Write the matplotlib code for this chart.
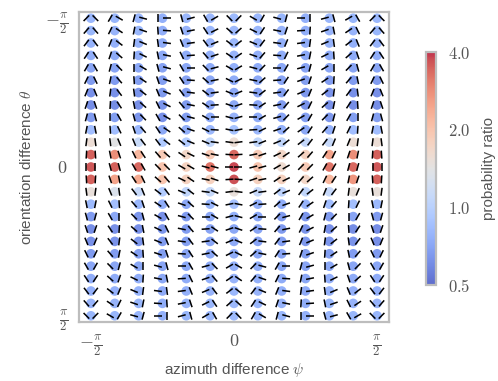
import numpy as np
import matplotlib
matplotlib.use("Agg")
from matplotlib import pyplot as plt
from matplotlib.colors import LogNorm
from matplotlib.collections import LineCollection

plt.rcParams['font.family'] = ['Liberation Sans', 'DejaVu Sans']
plt.rcParams['mathtext.fontset'] = 'cm'

# grid of azimuth differences (columns) and orientation differences (rows), degrees
psi_deg = [-90, -75, -60, -45, -30, -15, 0, 15, 30, 45, 60, 75, 90]
theta_deg = [-90, -82.5, -75, -67.5, -60, -52.5, -45, -37.5, -30, -22.5, -15, -7.5, 0,
             7.5, 15, 22.5, 30, 37.5, 45, 52.5, 60, 67.5, 75, 82.5, 90]

# probability ratio, one row per theta value (top to bottom), one entry per psi value
ratio = [
    [0.80, 0.79, 0.80, 0.76, 0.80, 0.80, 0.82, 0.80, 0.79, 0.76, 0.80, 0.79, 0.80],
    [0.79, 0.78, 0.79, 0.75, 0.78, 0.80, 0.81, 0.80, 0.78, 0.75, 0.78, 0.78, 0.79],
    [0.78, 0.76, 0.78, 0.74, 0.76, 0.78, 0.80, 0.78, 0.76, 0.74, 0.77, 0.76, 0.78],
    [0.75, 0.74, 0.75, 0.72, 0.74, 0.76, 0.78, 0.76, 0.74, 0.72, 0.74, 0.74, 0.75],
    [0.71, 0.70, 0.72, 0.70, 0.72, 0.74, 0.76, 0.74, 0.72, 0.70, 0.71, 0.70, 0.71],
    [0.66, 0.66, 0.68, 0.68, 0.70, 0.72, 0.74, 0.72, 0.70, 0.68, 0.67, 0.66, 0.66],
    [0.62, 0.62, 0.64, 0.66, 0.68, 0.70, 0.72, 0.70, 0.68, 0.65, 0.63, 0.62, 0.62],
    [0.61, 0.61, 0.62, 0.64, 0.66, 0.70, 0.72, 0.70, 0.66, 0.63, 0.62, 0.61, 0.61],
    [0.66, 0.68, 0.64, 0.62, 0.68, 0.74, 0.78, 0.74, 0.70, 0.68, 0.65, 0.68, 0.68],
    [0.84, 0.84, 0.80, 0.72, 0.76, 0.80, 0.88, 0.80, 0.76, 0.72, 0.76, 0.84, 0.84],
    [1.55, 1.40, 1.12, 0.94, 0.95, 1.05, 1.55, 1.06, 1.05, 1.08, 1.10, 1.55, 1.55],
    [3.50, 2.80, 2.20, 1.90, 1.70, 1.90, 3.40, 1.90, 1.70, 1.80, 2.50, 2.80, 3.50],
    [3.60, 3.50, 3.40, 2.00, 1.80, 3.20, 3.80, 2.00, 1.60, 1.90, 3.20, 3.40, 3.60],
    [3.50, 2.50, 2.40, 2.00, 1.80, 1.80, 3.70, 1.80, 1.80, 1.70, 2.20, 2.70, 3.50],
    [1.50, 1.30, 1.10, 0.95, 1.05, 1.10, 1.50, 1.10, 1.02, 1.05, 1.10, 1.50, 1.50],
    [0.82, 0.85, 0.80, 0.75, 0.72, 0.80, 0.86, 0.76, 0.74, 0.78, 0.84, 0.85, 0.82],
    [0.66, 0.72, 0.64, 0.62, 0.66, 0.72, 0.76, 0.72, 0.66, 0.64, 0.66, 0.70, 0.66],
    [0.61, 0.62, 0.62, 0.64, 0.67, 0.70, 0.72, 0.70, 0.66, 0.63, 0.62, 0.61, 0.61],
    [0.62, 0.63, 0.64, 0.66, 0.68, 0.71, 0.73, 0.70, 0.68, 0.65, 0.64, 0.63, 0.62],
    [0.66, 0.67, 0.68, 0.68, 0.70, 0.72, 0.74, 0.72, 0.70, 0.68, 0.68, 0.67, 0.66],
    [0.71, 0.71, 0.72, 0.70, 0.72, 0.74, 0.76, 0.74, 0.72, 0.70, 0.72, 0.71, 0.71],
    [0.74, 0.74, 0.75, 0.72, 0.74, 0.76, 0.78, 0.76, 0.74, 0.72, 0.75, 0.74, 0.74],
    [0.76, 0.76, 0.77, 0.73, 0.76, 0.78, 0.80, 0.78, 0.76, 0.73, 0.77, 0.76, 0.76],
    [0.78, 0.78, 0.79, 0.75, 0.78, 0.80, 0.81, 0.80, 0.78, 0.75, 0.79, 0.78, 0.78],
    [0.79, 0.79, 0.80, 0.76, 0.79, 0.80, 0.82, 0.80, 0.79, 0.76, 0.80, 0.79, 0.79],
]

cbar_ticks = [0.5, 1.0, 2.0, 4.0]
cbar_labels = ['$0.5$', '$1.0$', '$2.0$', '$4.0$']
axis_ticks = [-np.pi / 2, 0, np.pi / 2]
axis_labels = [r'$-\frac{\pi}{2}$', '$0$', r'$\frac{\pi}{2}$']

grey = '#555555'
frame = '#bdbdbd'

psi = np.radians(psi_deg)
theta = np.radians(theta_deg)
PSI, THETA = np.meshgrid(psi, theta)
R = np.array(ratio)

fig = plt.figure(figsize=(4.98, 3.81), dpi=100)
ax = fig.add_axes([0.1586, 0.1549, 0.6225, 0.8136])
cax = fig.add_axes([0.855, 0.252, 0.020, 0.6115])

dpsi = psi[1] - psi[0]
dtheta = theta[1] - theta[0]
xlim = (psi[0] - 0.5 * dpsi, psi[-1] + 0.5 * dpsi)
ylim = (theta[-1] + 0.5 * dtheta, theta[0] - 0.5 * dtheta)
ax.set_xlim(xlim)
ax.set_ylim(ylim)

sc = ax.scatter(PSI.ravel(), THETA.ravel(), c=R.ravel(), cmap='coolwarm',
                norm=LogNorm(0.5, 4.0), s=48, alpha=0.82, edgecolors='none', zorder=2)

# two sticks per cell, sized in pixels, converted back to data units
sx = ax.bbox.width / (xlim[1] - xlim[0])
sy = ax.bbox.height / (ylim[0] - ylim[1])
d, L = 4.5, 4.0
segs = []
for p, t in zip(PSI.ravel(), THETA.ravel()):
    for side, phi in ((-1, p + t / 2), (1, p - t / 2)):
        ox = side * d / sx
        hx = L * np.cos(phi) / sx
        hy = L * np.sin(phi) / sy
        segs.append([(p + ox - hx, t + hy), (p + ox + hx, t - hy)])
ax.add_collection(LineCollection(segs, colors='k', linewidths=1.1, zorder=3))

ax.set_xticks(axis_ticks)
ax.set_xticklabels(axis_labels)
ax.set_yticks(axis_ticks)
ax.set_yticklabels(axis_labels)
ax.tick_params(length=0, pad=8, labelsize=13, colors=grey)
for sp in ax.spines.values():
    sp.set_edgecolor(frame)
    sp.set_linewidth(1.6)
ax.set_xlabel(r'azimuth difference $\psi$', color=grey, fontsize=11)
ax.set_ylabel(r'orientation difference $\theta$', color=grey, fontsize=11)
ax.xaxis.set_label_coords(0.5, -0.125)
ax.yaxis.set_label_coords(-0.145, 0.5)

cb = fig.colorbar(sc, cax=cax, ticks=cbar_ticks)
cb.ax.minorticks_off()
cb.set_ticklabels(cbar_labels)
cb.outline.set_edgecolor(frame)
cb.outline.set_linewidth(1.6)
cax.tick_params(length=0, pad=9, labelsize=12, colors=grey)
cb.set_label('probability ratio', color=grey, fontsize=11, labelpad=8)

fig.savefig('out.png', dpi=100)
